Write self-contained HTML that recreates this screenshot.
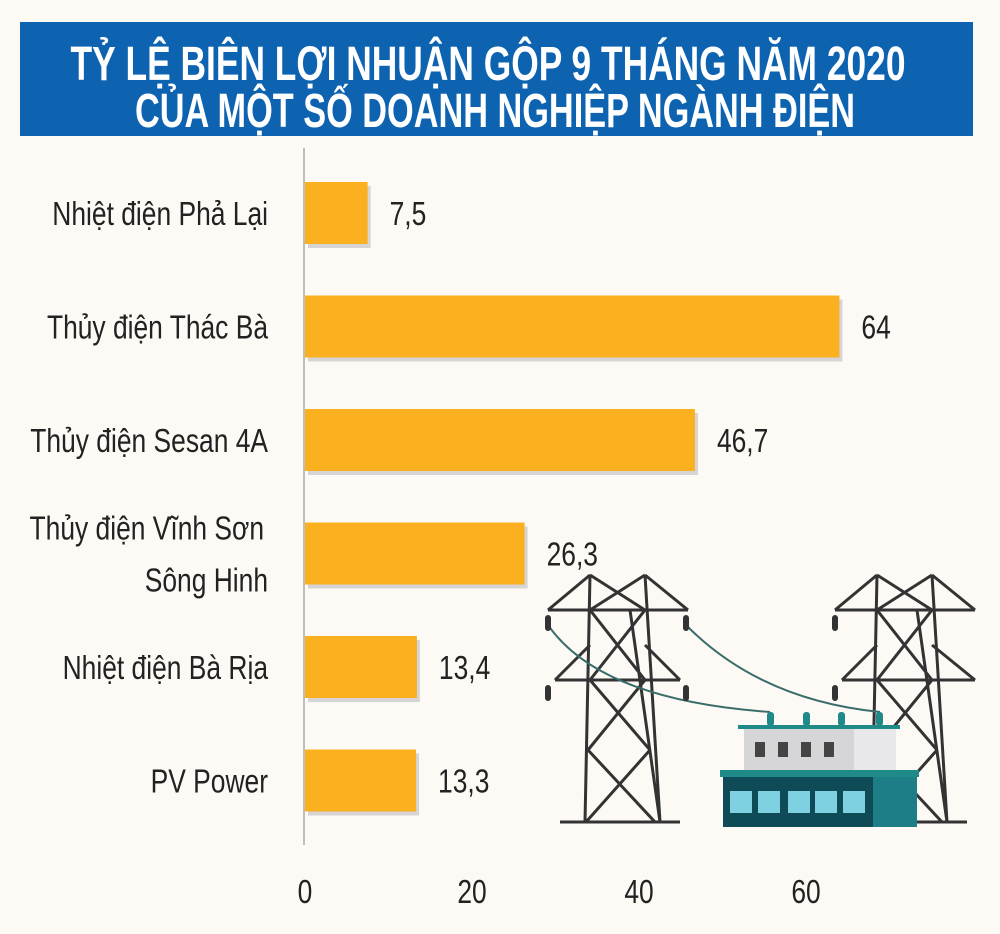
<!DOCTYPE html>
<html><head><meta charset="utf-8"><style>
html,body{margin:0;padding:0;background:#fdfaf5;}
svg{display:block}
text{font-family:"Liberation Sans Narrow","Liberation Sans",sans-serif;}
</style></head><body>
<svg id="chart" width="1000" height="934" viewBox="0 0 1000 934" xmlns="http://www.w3.org/2000/svg">
<rect x="0" y="0" width="1000" height="934" fill="#fdfaf5"/>
<rect x="20" y="22" width="953" height="114" fill="#0d63b0"/>
<text x="488" y="80" text-anchor="middle" font-size="48" font-weight="bold" fill="#fff" textLength="835" lengthAdjust="spacingAndGlyphs">TỶ LỆ BIÊN LỢI NHUẬN GỘP 9 THÁNG NĂM 2020</text>
<text x="495" y="127" text-anchor="middle" font-size="48" font-weight="bold" fill="#fff" textLength="720" lengthAdjust="spacingAndGlyphs">CỦA MỘT SỐ DOANH NGHIỆP NGÀNH ĐIỆN</text>

<g id="illustration" stroke="#333" stroke-width="3" fill="none">
  <g>
    <path d="M590,575 L585,822 M645,575 L660,822 M548,610 L688,610 M555,680 L680,680 M590,575 L548,610 M645,575 L688,610 M590,645 L555,680 M645,645 L680,680 M560,822 L680,822 M590,575 L645,610 M645,575 L590,610 M590,610 L645,680 M645,610 L590,680 M590,680 L650,750 M645,680 L588,750 M588,750 L655,822 M650,750 L586,822 M630,610 L660,822"/>
  </g>
  <g>
    <path d="M877,575 L872,822 M932,575 L947,822 M835,610 L975,610 M842,680 L975,680 M877,575 L835,610 M932,575 L975,610 M877,645 L842,680 M932,645 L975,680 M847,822 L967,822 M877,575 L932,610 M932,575 L877,610 M877,610 L932,680 M932,610 L877,680 M877,680 L937,750 M932,680 L875,750 M875,750 L942,822 M937,750 L873,822 M917,610 L947,822"/>
  </g>
  <path d="M548,625 Q600,700 770,712 M686,625 Q760,700 880,712" stroke="#3a6d6a" stroke-width="2"/>
  <g fill="#333" stroke="none">
    <rect x="545" y="615" width="6" height="16" rx="3"/><rect x="683" y="615" width="6" height="16" rx="3"/>
    <rect x="545" y="685" width="6" height="16" rx="3"/><rect x="683" y="685" width="6" height="16" rx="3"/>
    <rect x="832" y="615" width="6" height="16" rx="3"/><rect x="832" y="685" width="6" height="16" rx="3"/>
  </g>
  <g stroke="none">
    <rect x="738" y="725" width="162" height="4" fill="#1f8a88"/>
    <rect x="744" y="729" width="152" height="42" fill="#e8e8ea"/>
    <rect x="744" y="729" width="110" height="42" fill="#d6d6d9"/>
    <rect x="755" y="742" width="10" height="15" fill="#444"/><rect x="778" y="742" width="10" height="15" fill="#444"/>
    <rect x="801" y="742" width="10" height="15" fill="#444"/><rect x="824" y="742" width="10" height="15" fill="#444"/>
    <rect x="720" y="770" width="199" height="7" fill="#1f8a88"/>
    <rect x="723" y="777" width="150" height="50" fill="#0f4a57"/>
    <rect x="873" y="777" width="44" height="50" fill="#1d7e88"/>
    <g fill="#7fd0e0"><rect x="730" y="791" width="22" height="22"/><rect x="758" y="791" width="22" height="22"/><rect x="788" y="791" width="22" height="22"/><rect x="815" y="791" width="22" height="22"/><rect x="843" y="791" width="22" height="22"/></g>
    <g fill="#1f8a88"><rect x="767" y="712" width="7" height="14" rx="3"/><rect x="803" y="712" width="7" height="14" rx="3"/><rect x="838" y="712" width="7" height="14" rx="3"/><rect x="876" y="712" width="7" height="14" rx="3"/></g>
  </g>
</g>

<line x1="304" y1="148" x2="304" y2="845" stroke="#aaa" stroke-width="1.5"/>
<g id="bars"></g>
<g id="ticks"></g>
</svg>
<script>
const categories = [["Nhiệt điện Phả Lại"],["Thủy điện Thác Bà"],["Thủy điện Sesan  4A"],["Thủy điện Vĩnh Sơn","Sông Hinh"],["Nhiệt điện Bà Rịa"],["PV Power"]];
const values = [7.5, 64, 46.7, 26.3, 13.4, 13.3];
const valueLabels = ["7,5","64","46,7","26,3","13,4","13,3"];
const tickValues = [0, 20, 40, 60];
const tickLabels = ["0","20","40","60"];

const NS = "http://www.w3.org/2000/svg";
const SX = 0.8;
function xScale(v){ return 305 + v * 8.35; }
function yScale(i){ return 213 + i * 113.5; }
const barH = 62;
const gBars = document.getElementById('bars');
const gTicks = document.getElementById('ticks');
function mk(tag, attrs){ const e = document.createElementNS(NS, tag); for (const k in attrs) e.setAttribute(k, attrs[k]); return e; }
function txt(x, y, anchor){ return mk('text', {x: 0, y: 0, 'font-size': 33, fill: '#222', 'text-anchor': anchor, transform: 'translate(' + x + ',' + y + ') scale(' + SX + ',1)'}); }

values.forEach((v, i) => {
  const cy = yScale(i);
  const sh = mk('rect', {x: xScale(0)+3, y: cy-barH/2+4, width: xScale(v)-xScale(0), height: barH, fill: '#9a9aa6', opacity: '0.4'});
  
  
  gBars.appendChild(sh);
  const r = mk('rect', {x: xScale(0), y: cy-barH/2, width: xScale(v)-xScale(0), height: barH, fill: '#fbb11f'});
  
  
  gBars.appendChild(r);
  const t = txt(xScale(v)+22, cy+12, 'start');
  t.textContent = valueLabels[i];
  
  
  gBars.appendChild(t);
  const lines = categories[i];
  lines.forEach((ln, j) => {
    const off = lines.length === 1 ? 12 : (j === 0 ? -14 : 38);
    const c = txt(j===0 && lines.length>1 ? 264 : 268, cy+off, 'end');
    c.setAttribute('xml:space', 'preserve');
    c.textContent = ln;
    
    
    gBars.appendChild(c);
  });
});
tickValues.forEach((v, i) => {
  const t = txt(xScale(v), 903, 'middle');
  t.textContent = tickLabels[i];
  
  
  gTicks.appendChild(t);
});
</script>
</body></html>
